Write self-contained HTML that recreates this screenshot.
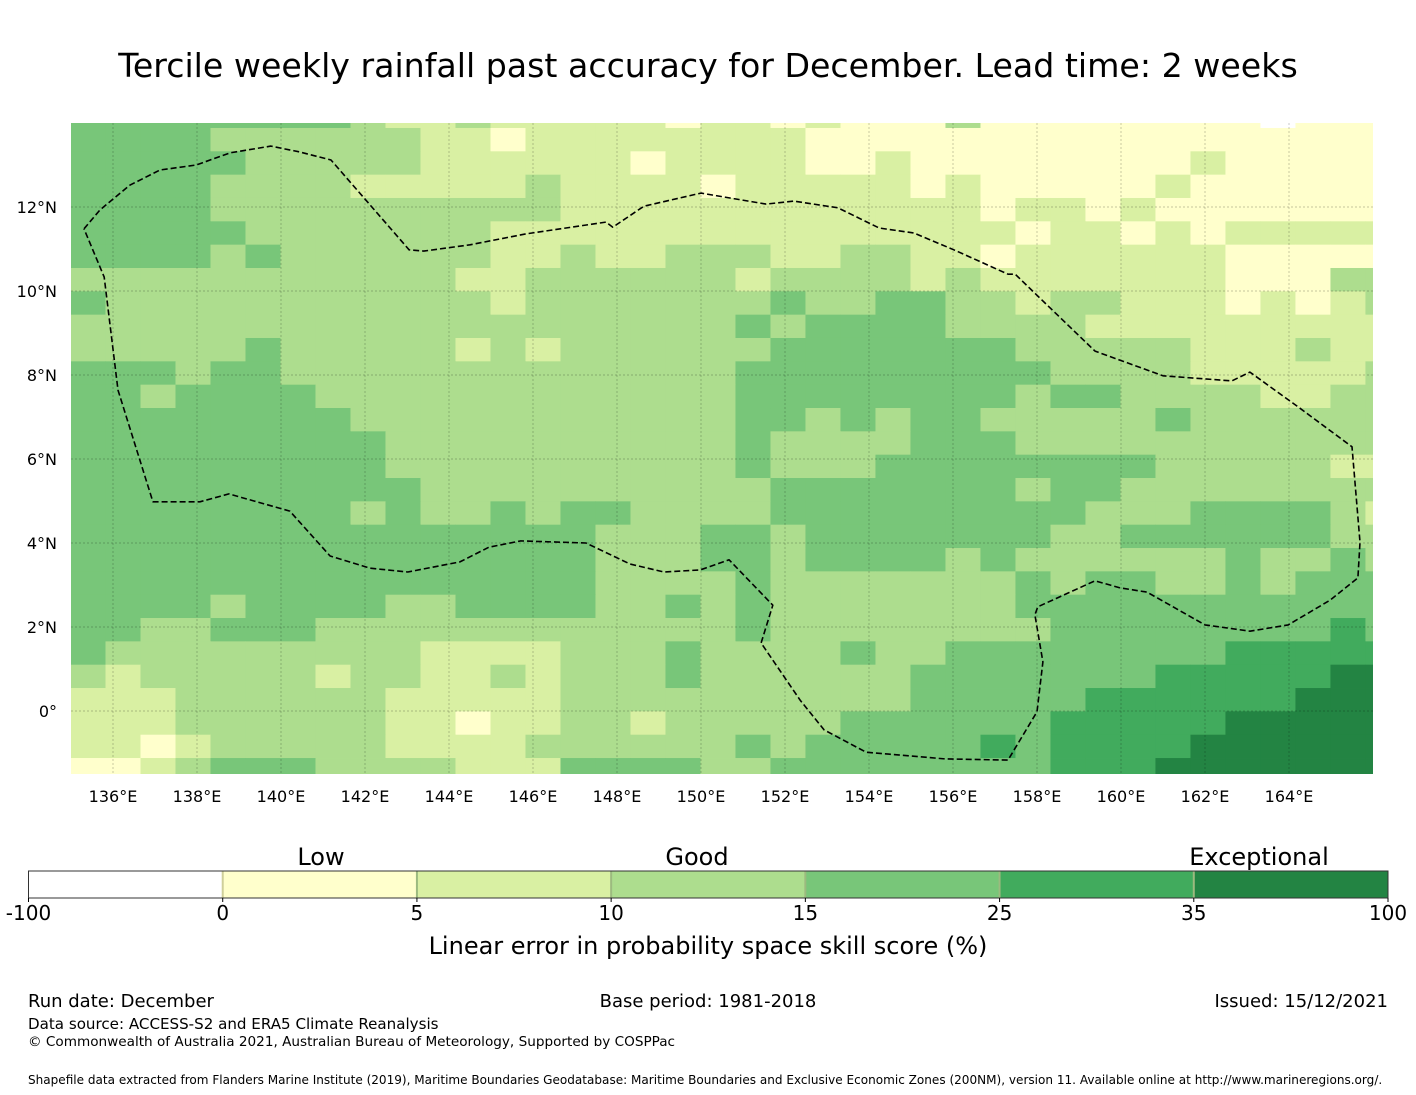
<!DOCTYPE html>
<html><head><meta charset="utf-8"><style>
html,body{margin:0;padding:0;background:#fff;}
svg{display:block;font-family:"DejaVu Sans","Liberation Sans",sans-serif;}
</style></head><body>
<svg id="fig" width="1416" height="1095" viewBox="0 0 1416 1095" xmlns="http://www.w3.org/2000/svg">
<text x="708" y="77" font-size="33.2" text-anchor="middle" fill="#000">Tercile weekly rainfall past accuracy for December. Lead time: 2 weeks</text>
<defs><clipPath id="mapclip"><rect x="71" y="123" width="1302" height="651"/></clipPath></defs>
<g id="map" clip-path="url(#mapclip)"></g>
<g id="grid"></g>
<g id="eez"></g>
<g id="xt"></g>
<g id="yt"></g>
<g id="cbar"></g>
<text x="321" y="865" font-size="24" text-anchor="middle">Low</text>
<text x="697" y="865" font-size="24" text-anchor="middle">Good</text>
<text x="1259" y="865" font-size="24" text-anchor="middle">Exceptional</text>
<text x="708" y="954" font-size="24" text-anchor="middle">Linear error in probability space skill score (%)</text>
<text x="28" y="1007" font-size="18">Run date: December</text>
<text x="708" y="1007" font-size="18" text-anchor="middle">Base period: 1981-2018</text>
<text x="1388" y="1007" font-size="18" text-anchor="end">Issued: 15/12/2021</text>
<text x="28" y="1029" font-size="15.1">Data source: ACCESS-S2 and ERA5 Climate Reanalysis</text>
<text x="28" y="1046" font-size="13.6">© Commonwealth of Australia 2021, Australian Bureau of Meteorology, Supported by COSPPac</text>
<text x="28" y="1084" font-size="12.05">Shapefile data extracted from Flanders Marine Institute (2019), Maritime Boundaries Geodatabase: Maritime Boundaries and Exclusive Economic Zones (200NM), version 11. Available online at http://www.marineregions.org/.</text>
</svg>
<script>
// class index per grid cell (0:-100..0, 1:0-5, 2:5-10, 3:10-15, 4:15-25, 5:25-35, 6:35-100), north to south
const gridRows = [
"44444444322322222122121113111111110111",
"44443333332212222222211111111111111111",
"44444333332222221222211211111111211111",
"44443333222223222212222212111112111111",
"44443333333333222222222222122121111111",
"44444333333322222222222222212212122222",
"44443433333322322333223322122222211111",
"33333333333223333332333323222222211133",
"43333333333323333333433443323322212123",
"33333333333333333334344443333222222222",
"33333433333232333333444444433333222322",
"44434433333333333334444444443333222223",
"44344443333333333334444444434433332233",
"44444444333333333334434344333334333333",
"44444444433333333334333344433333333333",
"44444444433333333334333444444443333322",
"44444444443333333333444444434433333333",
"44444444343343443333444444444333444432",
"44444444444444433344344444443344444433",
"44444444444444433344344443433333343343",
"44444444444444433334333333343443343444",
"44443444433444433434333333344444444444",
"44334443333333333334333333334444444454",
"43333333332222333433334334444444455555",
"32333332332232333433333344444445555566",
"22233333322222333333333344444555555666",
"22233333322122332333334444445555566666",
"22123333322223333334344444545555666666",
"11234443333222444433444444445556666666"
];
const classBounds = [-100, 0, 5, 10, 15, 25, 35, 100];
const classColors = ["#ffffff", "#ffffcc", "#d9f0a3", "#addd8e", "#78c679", "#41ab5d", "#238443"];
const lonTicks = [136, 138, 140, 142, 144, 146, 148, 150, 152, 154, 156, 158, 160, 162, 164];
const latTicks = [12, 10, 8, 6, 4, 2, 0];
const lonStart = 134.988, dLon = 0.8333, latTop = 14.437, dLat = 0.5556;
const eezLon = [135.31,135.69,136.40,137.12,137.98,138.79,139.76,140.45,141.19,143.05,143.40,144.50,145.83,147.74,147.90,148.64,150.00,151.55,152.21,153.26,154.24,155.07,156.02,156.29,157.31,157.48,158.07,159.38,161.00,162.64,163.07,164.26,165.50,165.69,165.64,164.98,163.98,163.07,162.00,160.62,159.98,159.38,158.02,157.95,158.14,158.00,157.31,155.81,153.93,152.93,152.36,151.43,151.71,150.67,149.98,149.12,148.31,147.26,145.71,144.95,144.26,143.02,142.12,141.17,140.21,138.76,138.07,136.95,136.12,135.79,135.31];
const eezLat = [11.48,11.93,12.52,12.88,13.00,13.29,13.45,13.31,13.12,10.98,10.95,11.10,11.36,11.64,11.52,12.02,12.33,12.07,12.14,11.98,11.50,11.38,10.98,10.86,10.40,10.40,9.83,8.57,7.98,7.86,8.07,7.21,6.29,4.02,3.17,2.64,2.05,1.90,2.05,2.83,2.93,3.10,2.48,2.29,1.17,-0.02,-1.17,-1.14,-0.98,-0.45,0.26,1.62,2.52,3.60,3.36,3.31,3.50,4.00,4.05,3.90,3.55,3.31,3.40,3.69,4.76,5.17,4.98,4.98,7.64,10.33,11.48];

const NS = "http://www.w3.org/2000/svg";
function mk(tag, attrs, parent){ const e=document.createElementNS(NS,tag); for(const k in attrs) e.setAttribute(k, attrs[k]); parent.appendChild(e); return e; }
function xOf(lon){ return 113 + (lon - 136) * 42; }
function yOf(lat){ return 207 - (lat - 12) * 42; }

const map = document.getElementById("map");
gridRows.forEach((row, r) => {
  for (let c = 0; c < row.length; c++) {
    const k = +row[c];
    const x0 = xOf(lonStart + c * dLon), x1 = xOf(lonStart + (c + 1) * dLon);
    const y0 = yOf(latTop - r * dLat), y1 = yOf(latTop - (r + 1) * dLat);
    const rc = mk("rect", {x: x0, y: y0, width: x1 - x0 + 0.4, height: y1 - y0 + 0.4, fill: classColors[k]}, map);
    
    
  }
});

const grid = document.getElementById("grid");
lonTicks.forEach(l => {
  const ln = mk("line", {x1: xOf(l), x2: xOf(l), y1: 123, y2: 774, stroke: "#000", "stroke-opacity": 0.3, "stroke-width": 0.7, "stroke-dasharray": "2,2"}, grid);
  
  
});
latTicks.forEach(l => {
  const ln = mk("line", {x1: 71, x2: 1373, y1: yOf(l), y2: yOf(l), stroke: "#000", "stroke-opacity": 0.3, "stroke-width": 0.7, "stroke-dasharray": "2,2"}, grid);
  
  
});

const eez = document.getElementById("eez");
const pts = eezLon.map((lo, i) => xOf(lo).toFixed(1) + "," + yOf(eezLat[i]).toFixed(1)).join(" ");
const pl = mk("polyline", {points: pts, fill: "none", stroke: "#000", "stroke-width": 1.6, "stroke-dasharray": "6,3", "stroke-linejoin": "round"}, eez);



const xt = document.getElementById("xt");
lonTicks.forEach(l => {
  const t = mk("text", {x: xOf(l), y: 802, "font-size": 16, "text-anchor": "middle"}, xt);
  t.textContent = l + "°E";
  
  
});
const yt = document.getElementById("yt");
latTicks.forEach(l => {
  const t = mk("text", {x: 57, y: yOf(l) + 6, "font-size": 16, "text-anchor": "end"}, yt);
  t.textContent = l === 0 ? "0°" : l + "°N";
  
  
});

const cbar = document.getElementById("cbar");
const cbX0 = 28.5, cbW = 1359.5, nSeg = classColors.length, segW = cbW / nSeg;
classColors.forEach((col, i) => {
  const r = mk("rect", {x: cbX0 + i * segW, y: 871, width: segW, height: 27, fill: col}, cbar);
  
  
  if (i > 0) {
    const s = mk("line", {x1: cbX0 + i * segW, x2: cbX0 + i * segW, y1: 871, y2: 898, "stroke-width": 2}, cbar);
    s.setAttribute('stroke', i === 1 ? "#cfcf9a" : "#9cba7f");
    
    
  }
});
const fr = mk("rect", {x: cbX0, y: 871, width: cbW, height: 27, fill: "none", stroke: "#333", "stroke-width": 1}, cbar);


classBounds.forEach((b, i) => {
  const x = cbX0 + i * segW;
  const tk = mk("line", {x1: x, x2: x, y1: 898, y2: 902, stroke: "#000"}, cbar);
  
  
  const t = mk("text", {x: x, y: 920, "font-size": 20, "text-anchor": "middle"}, cbar);
  t.textContent = b;
  
  
});
</script>
</body></html>
